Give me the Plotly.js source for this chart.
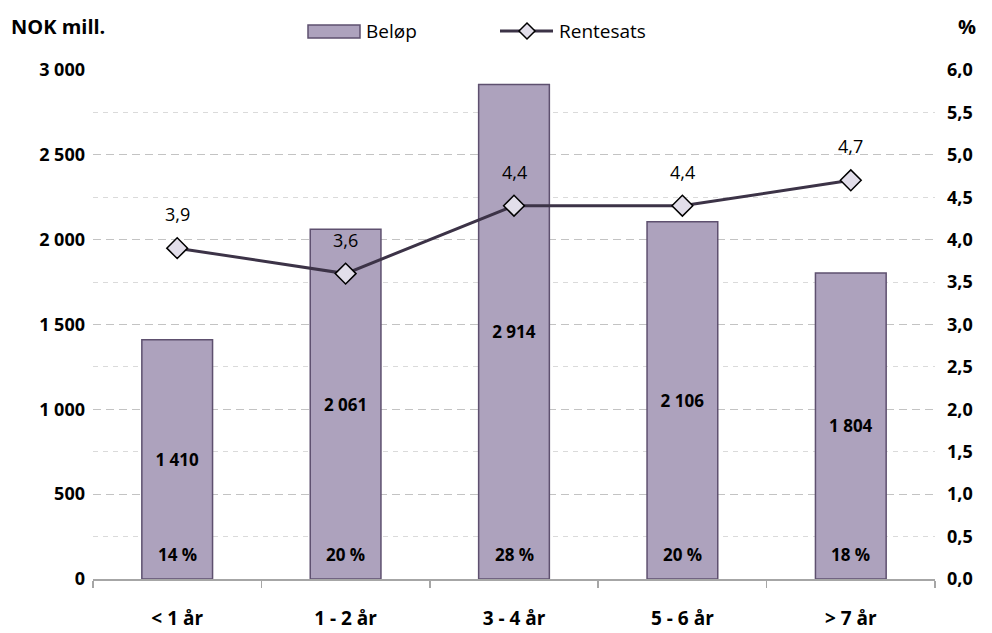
<!DOCTYPE html>
<html>
<head>
<meta charset="utf-8">
<script src="https://cdn.plot.ly/plotly-3.0.1.min.js"></script>
<style>html,body{margin:0;padding:0;background:#fff;}#chart{width:992px;height:633px;}</style>
</head>
<body>
<div id="chart"></div>
<script>
const categories = ["< 1 år", "1 - 2 år", "3 - 4 år", "5 - 6 år", "> 7 år"];
const belop = [1410, 2061, 2914, 2106, 1804];
const shareLabels = ["14 %", "20 %", "28 %", "20 %", "18 %"];
const rentesats = [3.9, 3.6, 4.4, 4.4, 4.7];
const seriesNames = ["Beløp", "Rentesats"];

const FONT = "'Open Sans', sans-serif";
const BAR_FILL = "#ADA2BD", BAR_LINE = "#5E506F", LINE_COL = "#3C3347", MARK_FILL = "#E2DEEA";

const barTrace = {
  type: "bar",
  name: seriesNames[0],
  x: categories,
  y: belop,
  width: 0.42,
  marker: {color: BAR_FILL, line: {color: BAR_LINE, width: 1.5}},
  texttemplate: "%{y:,.0f}",
  textposition: "inside",
  insidetextanchor: "middle",
  textangle: 0,
  textfont: {family: FONT, size: 17, color: "#000", weight: "bold"},
  hoverinfo: "skip"
};

const lineTrace = {
  type: "scatter",
  mode: "lines+markers",
  name: seriesNames[1],
  x: categories,
  y: rentesats,
  yaxis: "y2",
  line: {color: LINE_COL, width: 3},
  marker: {symbol: "diamond", size: 16, color: MARK_FILL, line: {color: "#000", width: 1.5}},
  hoverinfo: "skip"
};

// paper helpers for decoration (legend / titles)
const PL = 93, PR = 935, PT = 70, PB = 579;
const px = v => (v - PL) / (PR - PL);
const py = v => (PB - v) / (PB - PT);

const annotations = [];
categories.forEach((c, i) => {
  annotations.push({
    x: c, y: 0, xref: "x", yref: "y", yanchor: "bottom", yshift: 11,
    text: shareLabels[i], showarrow: false,
    font: {family: FONT, size: 17, color: "#000", weight: "bold"}
  });
  annotations.push({
    x: c, y: rentesats[i], xref: "x", yref: "y2", yanchor: "bottom", yshift: 20,
    text: rentesats[i].toFixed(1).replace(".", ","), showarrow: false,
    font: {family: FONT, size: 18, color: "#000"}
  });
});
annotations.push({
  xref: "paper", yref: "paper", x: px(9), y: py(27), xanchor: "left", yanchor: "middle",
  text: "<b>NOK mill.</b>", showarrow: false, font: {family: FONT, size: 20, color: "#000"}
});
annotations.push({
  xref: "paper", yref: "paper", x: px(967), y: py(27), xanchor: "center", yanchor: "middle",
  text: "<b>%</b>", showarrow: false, font: {family: FONT, size: 20, color: "#000"}
});
// custom legend texts
annotations.push({
  xref: "paper", yref: "paper", x: px(364), y: py(31), xanchor: "left", yanchor: "middle",
  text: seriesNames[0], showarrow: false, font: {family: FONT, size: 19, color: "#000"}
});
annotations.push({
  xref: "paper", yref: "paper", x: px(557), y: py(31), xanchor: "left", yanchor: "middle",
  text: seriesNames[1], showarrow: false, font: {family: FONT, size: 19, color: "#000"}
});

const dcx = 527, dcy = 31, dh = 8;
const shapes = [
  {type: "rect", xref: "paper", yref: "paper", x0: px(308), x1: px(360), y0: py(38), y1: py(25),
   fillcolor: BAR_FILL, line: {color: BAR_LINE, width: 1.5}},
  {type: "line", xref: "paper", yref: "paper", x0: px(500), x1: px(553), y0: py(31), y1: py(31),
   line: {color: LINE_COL, width: 3}},
  {type: "path", xref: "paper", yref: "paper",
   path: `M ${px(dcx - dh)} ${py(dcy)} L ${px(dcx)} ${py(dcy - dh)} L ${px(dcx + dh)} ${py(dcy)} L ${px(dcx)} ${py(dcy + dh)} Z`,
   fillcolor: MARK_FILL, line: {color: "#000", width: 1.5}}
];

const layout = {
  width: 992, height: 633,
  margin: {l: PL, r: 992 - PR, t: PT, b: 633 - PB},
  paper_bgcolor: "#fff", plot_bgcolor: "#fff",
  separators: ", ",
  font: {family: FONT, color: "#000"},
  showlegend: false,
  xaxis: {
    type: "category",
    showgrid: false, zeroline: false,
    showline: true, linecolor: "#A6A6A6", linewidth: 1.5,
    ticks: "outside", tickson: "boundaries", ticklen: 7, tickcolor: "#A6A6A6", tickwidth: 1.5,
    ticklabelstandoff: 22,
    tickfont: {family: FONT, size: 19, color: "#000", weight: "bold"}
  },
  yaxis: {
    range: [0, 3000], tickmode: "linear", tick0: 0, dtick: 500, tickformat: ",.0f",
    showline: false, zeroline: false, ticks: "",
    showgrid: true, gridcolor: "#C3C3C3", gridwidth: 1, griddash: "8px,5px",
    minor: {tickmode: "linear", tick0: 0, dtick: 250, showgrid: true, gridcolor: "#DADADA", gridwidth: 1, griddash: "5px,5px", ticks: ""},
    ticklabelstandoff: 7,
    tickfont: {family: FONT, size: 18, color: "#000", weight: "bold"}
  },
  yaxis2: {
    range: [0, 6], tickmode: "linear", tick0: 0, dtick: 0.5, tickformat: ".1f",
    overlaying: "y", side: "right",
    showline: false, zeroline: false, ticks: "", showgrid: false,
    ticklabelstandoff: 11,
    tickfont: {family: FONT, size: 18, color: "#000", weight: "bold"}
  },
  annotations: annotations,
  shapes: shapes
};

Plotly.newPlot("chart", [barTrace, lineTrace], layout, {staticPlot: true, displayModeBar: false});
</script>
</body>
</html>
